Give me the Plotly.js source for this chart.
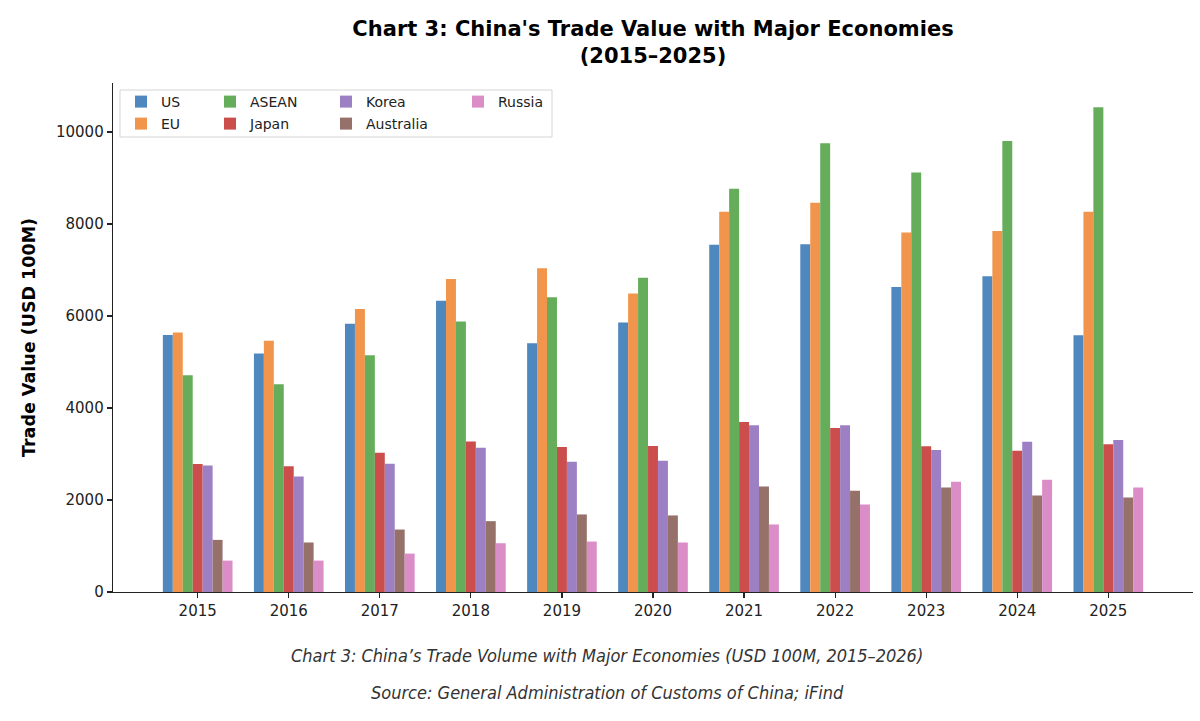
<!DOCTYPE html>
<html>
<head>
<meta charset="utf-8">
<script src="https://cdn.plot.ly/plotly-3.0.1.min.js"></script>
<style>
  html, body { margin: 0; padding: 0; background: #fff; }
  #chart { width: 1200px; height: 721px; }
</style>
</head>
<body>
<div id="chart"></div>
<script>
// values (USD 100M)
const years = ['2015', '2016', '2017', '2018', '2019', '2020', '2021', '2022', '2023', '2024', '2025'];
const us        = [5585, 5185, 5832, 6333, 5410, 5860, 7547, 7561, 6630, 6863, 5584];
const eu        = [5640, 5462, 6150, 6805, 7040, 6490, 8265, 8461, 7814, 7850, 8264];
const asean     = [4713, 4517, 5148, 5882, 6407, 6834, 8766, 9753, 9121, 9804, 10538];
const japan     = [2782, 2731, 3028, 3274, 3152, 3174, 3697, 3566, 3166, 3072, 3210];
const korea     = [2752, 2513, 2789, 3137, 2832, 2854, 3624, 3624, 3086, 3268, 3304];
const australia = [1133, 1076, 1358, 1540, 1686, 1664, 2296, 2200, 2273, 2099, 2055];
const russia    = [683, 683, 835, 1060, 1097, 1076, 1468, 1903, 2396, 2440, 2273];

const seriesNames = ['US', 'EU', 'ASEAN', 'Japan', 'Korea', 'Australia', 'Russia'];
const seriesValues = [us, eu, asean, japan, korea, australia, russia];
const colors = ['#4f87bf', '#f0954b', '#65ad5a', '#cb4e4d', '#9d80c3', '#95716a', '#db8dc8'];

// plot area in page pixels, used to place legends and captions
const L = 113, R = 1193, T = 83, B = 592;
const px = (x) => (x - L) / (R - L);
const py = (y) => (B - y) / (B - T);

// matplotlib-style legend: 4 columns, filled column by column
const legendSpots = [
  [125, 102], [125, 124],   // US, EU
  [214, 102], [214, 124],   // ASEAN, Japan
  [330, 102], [330, 124],   // Korea, Australia
  [462, 102]                // Russia
];

const font = 'DejaVu Sans, Verdana, sans-serif';
const captionFont = 'DejaVu Sans Condensed, Liberation Sans Narrow, sans-serif';

const traces = seriesNames.map((name, i) => ({
  type: 'bar',
  name: name,
  x: years,
  y: seriesValues[i],
  marker: { color: colors[i], line: { width: 0 } },
  legend: i === 0 ? 'legend' : 'legend' + (i + 1),
  showlegend: true,
  hovertemplate: name + ' %{x}: %{y}<extra></extra>'
}));

const layout = {
  width: 1200,
  height: 721,
  margin: { l: L, r: 1200 - R, t: T, b: 721 - B },
  paper_bgcolor: '#ffffff',
  plot_bgcolor: '#ffffff',
  font: { family: font, color: '#222222' },
  showlegend: true,
  barmode: 'group',
  bargap: 0.235,
  bargroupgap: 0,
  title: {
    text: "Chart 3: China's Trade Value with Major Economies<br>(2015\u20132025)",
    font: { family: font, size: 21, weight: 'bold', color: '#000000' },
    x: 0.5,
    xref: 'paper',
    xanchor: 'center',
    y: 1 - 36 / 721,
    yanchor: 'top'
  },
  xaxis: {
    type: 'category',
    range: [-0.93, 10.93],
    showline: true,
    linecolor: '#222222',
    linewidth: 1.3,
    ticks: 'outside',
    ticklen: 5,
    tickwidth: 1.2,
    tickcolor: '#222222',
    showgrid: false,
    zeroline: false,
    tickfont: { family: font, size: 15, color: '#222222' }
  },
  yaxis: {
    range: [0, 11065],
    dtick: 2000,
    tickformat: 'd',
    showline: true,
    linecolor: '#222222',
    linewidth: 1.3,
    ticks: 'outside',
    ticklen: 5,
    tickwidth: 1.2,
    tickcolor: '#222222',
    showgrid: false,
    zeroline: false,
    tickfont: { family: font, size: 15, color: '#222222' },
    title: {
      text: 'Trade Value (USD 100M)',
      font: { family: font, size: 17.5, weight: 'bold', color: '#000000' },
      standoff: 16
    }
  },
  shapes: [{
    type: 'rect',
    xref: 'paper', yref: 'paper',
    x0: px(120), x1: px(552), y0: py(137), y1: py(90),
    line: { color: '#d4d4d4', width: 1 },
    fillcolor: 'rgba(255,255,255,0.8)',
    layer: 'above'
  }],
  annotations: [
    {
      text: "Chart 3: China\u2019s Trade Volume with Major Economies (USD 100M, 2015\u20132026)",
      xref: 'paper', yref: 'paper',
      x: px(607), y: py(655),
      xanchor: 'center', yanchor: 'middle',
      showarrow: false,
      font: { family: captionFont, size: 18, style: 'italic', color: '#333333' }
    },
    {
      text: 'Source: General Administration of Customs of China; iFind',
      xref: 'paper', yref: 'paper',
      x: px(607), y: py(692),
      xanchor: 'center', yanchor: 'middle',
      showarrow: false,
      font: { family: captionFont, size: 18, style: 'italic', color: '#333333' }
    }
  ]
};

legendSpots.forEach((spot, i) => {
  const key = i === 0 ? 'legend' : 'legend' + (i + 1);
  layout[key] = {
    x: px(spot[0] - 4),
    y: py(spot[1]),
    xanchor: 'left',
    yanchor: 'middle',
    bgcolor: 'rgba(0,0,0,0)',
    borderwidth: 0,
    font: { family: font, size: 14, color: '#222222' },
    itemclick: false,
    itemdoubleclick: false
  };
});

Plotly.newPlot('chart', traces, layout, { displayModeBar: false, staticPlot: true });
</script>
</body>
</html>
